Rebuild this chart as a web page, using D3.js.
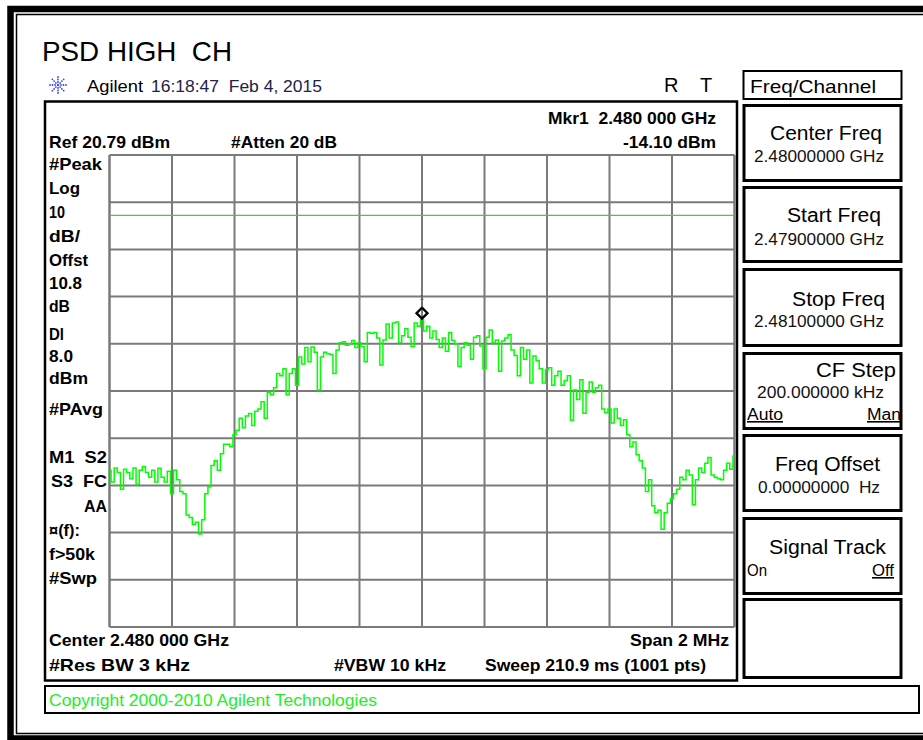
<!DOCTYPE html>
<html>
<head>
<meta charset="utf-8">
<script src="https://cdn.jsdelivr.net/npm/d3@7"></script>
<style>
  html, body { margin: 0; padding: 0; background: #fff; }
  svg { display: block; font-family: "Liberation Sans", Arial, sans-serif; }
  text { white-space: pre; }
</style>
</head>
<body>
<svg id="chart" width="923" height="740"></svg>
<script>
// ---------------- data ----------------
const chartTitle = "PSD HIGH  CH";
const startFreqMHz = 2479.0;
const stopFreqMHz = 2481.0;
const refLevelDbm = 20.79;
const bottomLevelDbm = -79.21;
const displayLineDbm = 8.0;
const markerFreqMHz = 2480.0;
const markerDbm = -14.10;
const xGridMHz = [2479.0, 2479.2, 2479.4, 2479.6, 2479.8, 2480.0, 2480.2, 2480.4, 2480.6, 2480.8, 2481.0];
const yGridDbm = [20.79, 10.79, 0.79, -9.21, -19.21, -29.21, -39.21, -49.21, -59.21, -69.21, -79.21];
// trace (dBm), sampled every 10 kHz across the 2 MHz span
const traceDbm = [
  -46, -48.5, -45.5, -46.5, -50, -45.8, -46.5, -47.8, -45.5, -49, -46, -45.2, -46.5, -47.5, -46, -48.5, -45.6, -47.5, -48.5, -46.2, -51, -46, -48,
  -50.5, -51, -55.5, -56, -57.5, -57, -59.5, -56.5, -51, -49.5,
  -45, -44, -46, -42.5, -40.5, -40.5, -41, -38.5, -37.5, -35,
  -37, -34.5, -34, -36.5, -33.5, -33, -31.5, -35, -29.5, -30,
  -28.5, -25.5, -26, -24.5, -30, -25.5, -24.5, -28, -22, -23.5,
  -20, -23, -19.9, -21, -29, -22, -21, -21.3, -21.5, -25.5,
  -20.5, -19, -18.8, -19.5, -19.2, -18.5, -20, -19, -19.8, -23,
  -16.8, -17, -16.8, -18, -23.7, -18.4, -15, -18, -14.8, -14.6,
  -19, -17.5, -16, -17.8, -19.8, -14.8, -15.5, -14.1,
  -16.5, -15.5, -18, -16.5, -18.3, -20, -18, -20.8, -16.8, -18.5,
  -19.2, -24, -20, -19, -19.5, -22.5, -17.8, -17.5, -19.7, -24.5,
  -17.8, -16.3, -19, -18.4, -25, -18.6, -18, -17.3, -20.5, -21.7,
  -26, -20, -22.5, -20.5, -27.5, -21.8, -22.8, -24.5, -27.5, -24.7,
  -24.3, -28, -26, -25, -28, -27, -26, -35.4, -29, -31,
  -26.8, -33.9, -29.5, -27.3, -29.5, -28.5, -28, -33, -33.8, -33,
  -36, -33, -35, -36.5, -35.3, -38.5, -41, -40, -42.7, -44,
  -45.5, -50.5, -48, -53.5, -55, -54.5, -58.5, -55, -53, -52,
  -51, -50, -47.5, -48, -46, -47, -53.3, -48, -45.5, -46.5,
  -44.5, -43.3, -47, -47.5, -47.8, -48, -46, -44.5, -45.8, -43
];
const leftLabels = [
  ["#Peak", 170], ["Log", 194], ["10", 218], ["dB/", 242], ["Offst", 266], ["10.8", 289], ["dB", 312],
  ["Dl", 340], ["8.0", 362], ["dBm", 384], ["#PAvg", 415],
  ["M1  S2", 463], ["S3  FC", 487], ["AA", 512], ["\u00a4(f):", 536], ["f>50k", 560], ["#Swp", 584]
];
const leftLabelWidths = [53, 31, 16, 31, 39, 33, 21, 15, 24, 39, 54, 58, 56, 23, 31, 46, 48];
const leftLabelX = [49, 49, 49, 49, 49, 49, 49, 49, 49, 49, 49, 49, 51, 84, 49, 49, 49];
const softkeyTitles = ["Center Freq", "Start Freq", "Stop Freq", "CF Step", "Freq Offset", "Signal Track", ""];
const softkeyValues = ["2.48000000 GHz", "2.47900000 GHz", "2.48100000 GHz", "200.000000 kHz", "0.00000000  Hz", "", ""];

// ---------------- drawing ----------------
const svg = d3.select("#chart");
const W = 923, H = 740;
svg.append("rect").attr("width", W).attr("height", H).attr("fill", "#fff");

function txt(str, x, y, o = {}) {
  const t = svg.append("text")
    .attr("x", x).attr("y", y)
    .attr("font-size", o.size || 16)
    .attr("font-weight", o.weight || "normal")
    .attr("fill", o.fill || "#000")
    .attr("text-anchor", o.anchor || "start")
    .text(str);
  if (o.width) t.attr("textLength", o.width).attr("lengthAdjust", "spacingAndGlyphs");
  if (o.underline) t.attr("text-decoration", "underline");
  return t;
}

// outer double frame
svg.append("rect").attr("x", 10.5).attr("y", 9).attr("width", 940).attr("height", 729.5)
  .attr("fill", "none").attr("stroke", "#000").attr("stroke-width", 6.5);
svg.append("rect").attr("x", 16.5).attr("y", 14.5).attr("width", 930).attr("height", 719)
  .attr("fill", "none").attr("stroke", "#000").attr("stroke-width", 1.5);

// title
txt(chartTitle, 42, 61, { size: 28, width: 190 });

// Agilent logo (starburst)
const logo = svg.append("g").attr("transform", "translate(58,85)");
for (let k = 0; k < 8; k++) {
  const a = k * Math.PI / 4;
  [3, 5.5, 8].forEach(r => {
    logo.append("circle").attr("cx", r * Math.cos(a)).attr("cy", r * Math.sin(a))
      .attr("r", 0.9).attr("fill", "#3a48e8");
  });
}
logo.append("circle").attr("r", 1.2).attr("fill", "#3a48e8");
txt("Agilent", 87, 92, { size: 16, width: 56 });
txt("16:18:47  Feb 4, 2015", 151, 92, { size: 16, width: 171, fill: "#222244" });
txt("R", 664, 92, { size: 20 });
txt("T", 700, 92, { size: 20 });

// analyzer display box
svg.append("rect").attr("x", 45).attr("y", 101.5).attr("width", 692).attr("height", 579)
  .attr("fill", "none").attr("stroke", "#000").attr("stroke-width", 2.5);

// scales
const x = d3.scaleLinear().domain([startFreqMHz, stopFreqMHz]).range([109.5, 734.5]);
const y = d3.scaleLinear().domain([bottomLevelDbm, refLevelDbm]).range([627, 155]);

// grid
const grid = svg.append("g");
grid.selectAll("line.v").data(xGridMHz).join("line")
  .attr("x1", d => x(d)).attr("x2", d => x(d)).attr("y1", y(refLevelDbm)).attr("y2", y(bottomLevelDbm))
  .attr("stroke", "#7a7a7a").attr("stroke-width", (d, i) => (i === 0 || i === xGridMHz.length - 1) ? 2.5 : 2);
grid.selectAll("line.h").data(yGridDbm).join("line")
  .attr("x1", x(startFreqMHz)).attr("x2", x(stopFreqMHz)).attr("y1", d => y(d)).attr("y2", d => y(d))
  .attr("stroke", "#7a7a7a").attr("stroke-width", 2);

// display line
svg.append("line").attr("x1", x(startFreqMHz)).attr("x2", x(stopFreqMHz))
  .attr("y1", y(displayLineDbm)).attr("y2", y(displayLineDbm))
  .attr("stroke", "#2edc2e").attr("stroke-width", 1.4);

// trace
svg.append("clipPath").attr("id", "clip").append("rect")
  .attr("x", x(startFreqMHz)).attr("y", y(refLevelDbm))
  .attr("width", x(stopFreqMHz) - x(startFreqMHz)).attr("height", y(bottomLevelDbm) - y(refLevelDbm));
const step = (stopFreqMHz - startFreqMHz) / (traceDbm.length - 1);
const tracePts = traceDbm.map((v, i) => ({ f: startFreqMHz + i * step, v }));
svg.append("path").datum(tracePts)
  .attr("clip-path", "url(#clip)")
  .attr("d", d3.line().x(d => x(d.f)).y(d => y(d.v)).curve(d3.curveStep))
  .attr("fill", "none").attr("stroke", "#00ff00").attr("stroke-width", 1.5);

// marker
const mx = x(markerFreqMHz), my = y(markerDbm);
svg.append("path")
  .attr("d", `M${mx},${my - 12} L${mx + 5.5},${my - 6.5} L${mx},${my - 1} L${mx - 5.5},${my - 6.5} Z`)
  .attr("fill", "none").attr("stroke", "#000").attr("stroke-width", 2.3);
svg.append("line").attr("x1", mx).attr("x2", mx).attr("y1", my - 19).attr("y2", my - 12)
  .attr("stroke", "#666").attr("stroke-width", 1);
txt("1", mx, my - 20, { size: 8, anchor: "middle", fill: "#7a4020" });

// header texts in box
txt("Mkr1  2.480 000 GHz", 548, 124, { size: 17, weight: "bold", width: 168 });
txt("-14.10 dBm", 623, 148, { size: 17, weight: "bold", width: 93 });
txt("Ref 20.79 dBm", 49, 148, { size: 17, weight: "bold", width: 121 });
txt("#Atten 20 dB", 231, 148, { size: 17, weight: "bold", width: 106 });

// left labels
leftLabels.forEach((d, i) => {
  txt(d[0], leftLabelX[i], d[1], { size: 17, weight: "bold", width: leftLabelWidths[i] });
});

// bottom labels
txt("Center 2.480 000 GHz", 49, 646, { size: 17, weight: "bold", width: 180 });
txt("Span 2 MHz", 630, 646, { size: 17, weight: "bold", width: 99 });
txt("#Res BW 3 kHz", 49, 671, { size: 17, weight: "bold", width: 141 });
txt("#VBW 10 kHz", 334, 671, { size: 17, weight: "bold", width: 112 });
txt("Sweep 210.9 ms (1001 pts)", 485, 671, { size: 17, weight: "bold", width: 221 });

// copyright box
svg.append("rect").attr("x", 45).attr("y", 686).attr("width", 874).attr("height", 27)
  .attr("fill", "none").attr("stroke", "#000").attr("stroke-width", 2);
txt("Copyright 2000-2010 Agilent Technologies", 49, 706, { size: 16, fill: "#22ee22", width: 328 });

// softkey panel
svg.append("rect").attr("x", 743.5).attr("y", 71).attr("width", 158).attr("height", 28)
  .attr("fill", "none").attr("stroke", "#000").attr("stroke-width", 2);
txt("Freq/Channel", 750, 93, { size: 19, width: 126 });

const keyTops = [104, 186, 268, 352, 434, 517, 598];
const keyBottoms = [182, 263, 347, 430, 512, 595, 679];
keyTops.forEach((t, i) => {
  svg.append("rect").attr("x", 744).attr("y", t + 1.5).attr("width", 157).attr("height", keyBottoms[i] - t - 3)
    .attr("fill", "none").attr("stroke", "#000").attr("stroke-width", 3);
});
const titleSpecs = [[770, 140, 112], [787, 222, 94], [792, 306, 93], [816, 377, 80], [775, 471, 105], [769, 554, 117]];
titleSpecs.forEach((s, i) => txt(softkeyTitles[i], s[0], s[1], { size: 20, width: s[2] }));
const valueSpecs = [[754, 162, 130], [754, 245, 130], [754, 327, 130], [757, 398, 127], [758, 493, 122]];
valueSpecs.forEach((s, i) => txt(softkeyValues[i], s[0], s[1], { size: 16, width: s[2], fill: "#111" }));
txt("Auto", 747, 420, { size: 16, width: 36, underline: true });
txt("Man", 867, 420, { size: 16, width: 34, underline: true });
txt("On", 747, 576, { size: 16, width: 20 });
txt("Off", 872, 576, { size: 16, width: 22, underline: true });
</script>
</body>
</html>
